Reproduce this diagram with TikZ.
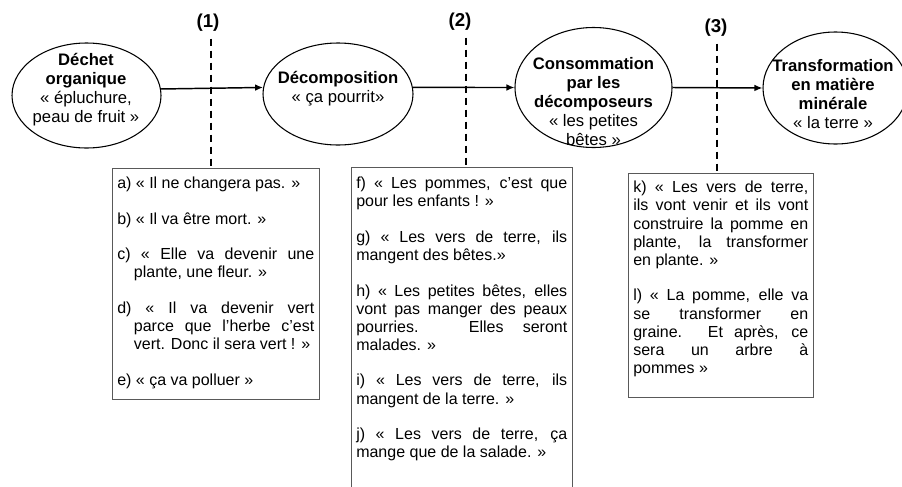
\documentclass[tikz,border=0pt]{standalone}
\usepackage{fontspec}
\setmainfont{Liberation Sans}
\usetikzlibrary{shapes.geometric,arrows.meta}

\begin{document}
\begin{tikzpicture}[x=0.75pt,y=-0.75pt,
    bulle/.style={ellipse, draw, line width=0.8pt, inner sep=0pt},
    titre/.style={align=center, inner sep=0pt, font=\fontsize{12.5}{14.3}\selectfont},
    fleche/.style={line width=1.1pt, -{Latex[length=6pt,width=5pt]}},
    tirets/.style={line width=1.5pt, dash pattern=on 5.5pt off 3.5pt, shorten <=4pt},
    cadre/.style={draw=black!65, line width=0.75pt},
    repere/.style={inner sep=1pt, font=\fontsize{14}{16}\selectfont\bfseries},
    texte/.style={anchor=north west, inner sep=0pt, align=justify,
        font=\fontsize{12}{13.6}\selectfont,
        execute at begin node={\setlength{\parskip}{13pt}\tolerance=10000\hbadness=10000}}]
    \useasboundingbox (0,0) rectangle (902,486);

    % Les quatre etapes
    \node[bulle, minimum width=111.75pt, minimum height=78.75pt] (e1) at (86.5,95.5) {};
    \node[bulle, minimum width=112.5pt, minimum height=76.5pt] (e2) at (338,94) {};
    \node[bulle, minimum width=117.75pt, minimum height=90pt] (e3) at (593.5,87.5) {};
    \node[bulle, minimum width=108.75pt, minimum height=84pt] (e4) at (835.5,88) {};

    \node[titre] (t1) at (86,90) {\textbf{Déchet}\\\textbf{organique}\\« épluchure,\\peau de fruit »};
    \node[titre] (t2) at (338,89) {\textbf{Décomposition}\\« ça pourrit»};
    \node[titre] (t3) at (593.5,101.5) {\textbf{Consommation}\\\textbf{par les}\\\textbf{décomposeurs}\\« les petites\\bêtes »};
    \node[titre] (t4) at (833,94) {\textbf{Transformation}\\\textbf{en matière}\\\textbf{minérale}\\« la terre »};

    % Fleches entre les etapes
    \draw[fleche] (e1.5) -- (e2.175);
    \draw[fleche] (e2.5) -- (e3.west);
    \draw[fleche] (e3.east) -- (e4.west);

    % Cadres des reponses
    \draw[cadre] (112,168) rectangle (319,399);
    \draw[cadre] (351,167) rectangle (572,500);
    \draw[cadre] (628,173) rectangle (813,397);
    \coordinate (c1) at (211,168);
    \coordinate (c2) at (466,167);
    \coordinate (c3) at (717,173);

    % Reperes (1), (2), (3)
    \node[repere] (n1) at (208,23) {(1)};
    \node[repere] (n2) at (460,22) {(2)};
    \node[repere] (n3) at (716,28) {(3)};
    \draw[tirets] (c1 |- n1.south) -- (c1);
    \draw[tirets] (c2 |- n2.south) -- (c2);
    \draw[tirets] (c3 |- n3.south) -- (c3);

    % Reponses des eleves
    \node[texte, text width=147.75pt] (r1) at (117,177) {%
        a) « Il ne changera pas. »\par
        b) « Il va être mort. »\par
        \hangindent=12.5pt c) « Elle va devenir une\linebreak plante, une fleur. »\par
        \hangindent=12.5pt d) « Il va devenir vert\linebreak parce que l'herbe c'est\linebreak vert. Donc il sera vert ! »\par
        e) « ça va polluer »};
    \node[texte, text width=158.25pt] (r2) at (356,177) {%
        f) « Les pommes, c'est que\linebreak pour les enfants ! »\par
        g) « Les vers de terre, ils\linebreak mangent des bêtes.»\par
        h) « Les petites bêtes, elles\linebreak vont pas manger des peaux\linebreak pourries. Elles seront\linebreak malades. »\par
        i) « Les vers de terre, ils\linebreak mangent de la terre. »\par
        j) « Les vers de terre, ça\linebreak mange que de la salade. »};
    \node[texte, text width=131.25pt] (r3) at (633,181) {%
        k) « Les vers de terre,\linebreak ils vont venir et ils vont\linebreak construire la pomme en\linebreak plante, la transformer\linebreak en plante. »\par
        l) « La pomme, elle va\linebreak se transformer en\linebreak graine. Et après, ce\linebreak sera un arbre à\linebreak pommes »};
\end{tikzpicture}
\end{document}
